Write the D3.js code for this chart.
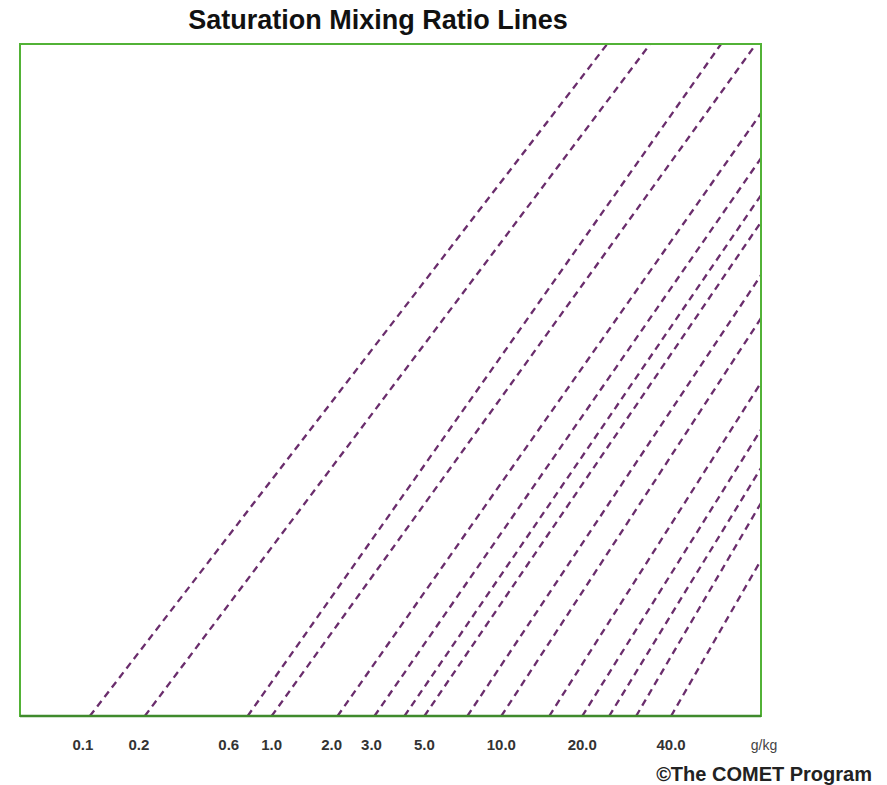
<!DOCTYPE html>
<html>
<head>
<meta charset="utf-8">
<script src="https://cdn.jsdelivr.net/npm/d3@7"></script>
<style>
  html, body { margin: 0; padding: 0; background: #ffffff; }
  svg { display: block; font-family: "Liberation Sans", Arial, sans-serif; }
</style>
</head>
<body>
<svg id="chart" width="887" height="785"></svg>
<script>
// Mixing ratio values (g/kg) for each dashed line
const ratios = [0.1, 0.2, 0.6, 1.0, 2.0, 3.0, 4.0, 5.0, 7.0, 10.0, 15.0, 20.0, 25.0, 30.0, 40.0];
// Where each line meets the bottom of the diagram (skewed-x units, 0-100)
const baseX = [9.43, 16.85, 30.73, 33.96, 42.86, 47.84, 51.89, 54.58, 60.38, 64.96, 71.43, 75.88, 79.51, 83.15, 87.87];
// Where each line leaves the diagram: end x (0-100) and end height (0-100)
const endX = [79.25, 85.04, 94.61, 99.33, 100, 100, 100, 100, 100, 100, 100, 100, 100, 100, 100];
const endY = [100, 100, 100, 100, 89.7, 83.0, 77.5, 73.5, 65.6, 59.2, 49.6, 42.6, 36.9, 31.7, 23.2];
// Tick labels along the bottom and their positions (skewed-x units)
const tickLabels = ["0.1", "0.2", "0.6", "1.0", "2.0", "3.0", "5.0", "10.0", "20.0", "40.0"];
const tickPos = [8.49, 16.04, 28.17, 33.96, 42.05, 47.44, 54.58, 64.96, 75.88, 87.87];
const unitLabel = "g/kg";
const unitPos = 100.4;

const svg = d3.select("#chart");
const margin = { left: 20, right: 126, top: 44, bottom: 69 };
const W = 887, H = 785;

const x = d3.scaleLinear().domain([0, 100]).range([margin.left, W - margin.right]);
const y = d3.scaleLinear().domain([0, 100]).range([H - margin.bottom, margin.top]);

// Title
svg.append("text")
  .attr("x", 378).attr("y", 29)
  .attr("text-anchor", "middle")
  .style("font-size", "27px").style("font-weight", "bold").style("fill", "#111")
  .text("Saturation Mixing Ratio Lines");

// Data lines
const lines = ratios.map((r, i) => ({ r, pts: [[baseX[i], 0], [endX[i], endY[i]]] }));
const lineGen = d3.line().x(d => x(d[0])).y(d => y(d[1]));

svg.append("defs").append("clipPath").attr("id", "plotclip")
  .append("rect")
  .attr("x", x(0)).attr("y", y(100))
  .attr("width", x(100) - x(0)).attr("height", y(0) - y(100));

svg.append("g").attr("clip-path", "url(#plotclip)")
  .selectAll("path").data(lines).enter().append("path")
  .attr("d", d => lineGen(d.pts))
  .attr("fill", "none")
  .attr("stroke", "#6a2d6c")
  .attr("stroke-width", 2.3)
  .attr("stroke-dasharray", "7,5");

// Frame
svg.append("rect")
  .attr("x", x(0)).attr("y", y(100))
  .attr("width", x(100) - x(0)).attr("height", y(0) - y(100))
  .attr("fill", "none")
  .attr("stroke", "#52b236")
  .attr("stroke-width", 2);
svg.append("line")
  .attr("x1", x(0)).attr("x2", x(100)).attr("y1", y(0)).attr("y2", y(0))
  .attr("stroke", "#3f8a2c").attr("stroke-width", 2.5);

// Bottom labels
svg.append("g").selectAll("text").data(tickLabels).enter().append("text")
  .attr("x", (d, i) => x(tickPos[i]))
  .attr("y", 750)
  .attr("text-anchor", "middle")
  .style("font-size", "15px").style("font-weight", "bold").style("fill", "#333")
  .text(d => d);

svg.append("text")
  .attr("x", x(unitPos)).attr("y", 750)
  .attr("text-anchor", "middle")
  .style("font-size", "14px").style("fill", "#444")
  .text(unitLabel);

// Credit
svg.append("text")
  .attr("x", 872).attr("y", 781)
  .attr("text-anchor", "end")
  .style("font-size", "20px").style("font-weight", "bold").style("fill", "#222")
  .text("\u00A9The COMET Program");
</script>
</body>
</html>
